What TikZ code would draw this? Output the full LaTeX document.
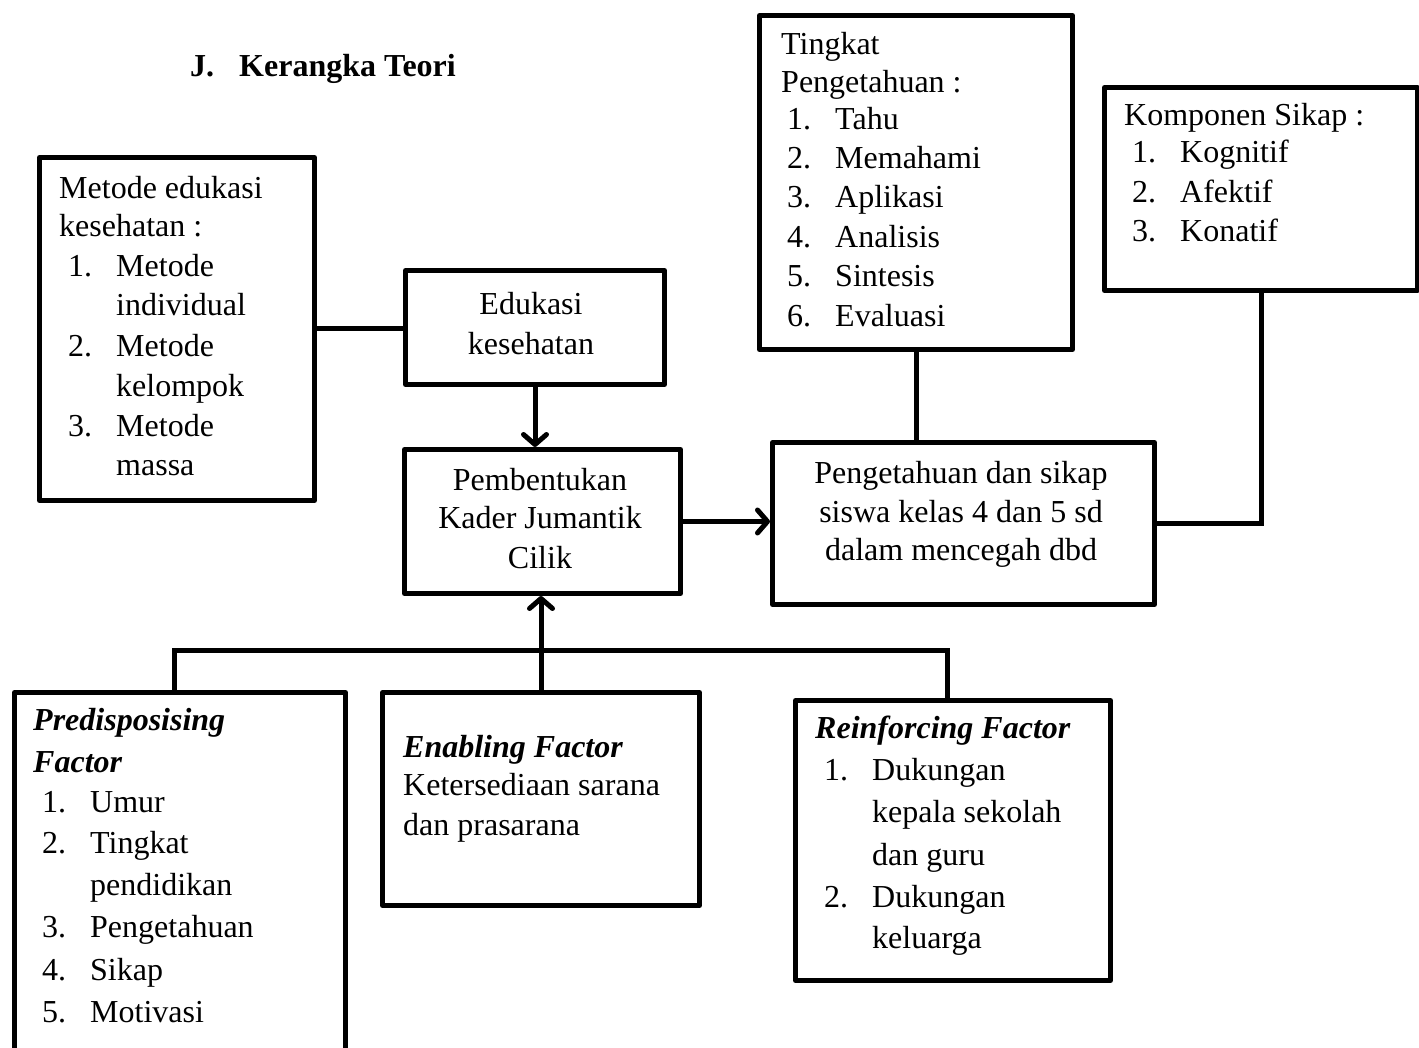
\documentclass[tikz,border=0pt]{standalone}
\usepackage{fontspec}
\setmainfont{Liberation Serif}
\usetikzlibrary{arrows.meta,calc}
\tikzset{
  box/.style={draw, line width=5pt, rectangle, inner sep=0pt, anchor=north west, line join=round},
  conn/.style={line width=5pt},
  arr/.style={conn, -{Straight Barb[length=10pt,width=23pt,round]}},
  txt/.style={anchor=base west, inner sep=0pt, font=\fontsize{32}{39.5}\selectfont},
  ctxt/.style={txt, anchor=base},
}
\newcommand\Bx[5]{\node[box, minimum width=#4pt, minimum height=#5pt] (#1) at (#2,#3) {};}
\newcommand\Tl[4]{\node[txt] (#1) at (#2,#3) {#4};}
\newcommand\Ct[4]{\node[ctxt] (#1) at (#2,#3) {#4};}
\newcommand\Num[2]{\makebox[48pt][l]{#1}#2}
\begin{document}
\begin{tikzpicture}[x=1pt,y=-1pt]
\useasboundingbox (0,0) rectangle (1419,1048);
% title
\node[txt, font=\fontsize{32}{39.5}\selectfont\bfseries] (title) at (190,77) {\makebox[49pt][l]{J.}Kerangka Teori};
% boxes
\Bx{metode}{37}{155}{275}{343}
\Bx{edukasi}{403}{268}{259}{114}
\Bx{pembentukan}{402}{447}{276}{144}
\Bx{pengsikap}{770}{440}{382}{162}
\Bx{tingkat}{757}{13}{313}{334}
\Bx{komponen}{1102}{85}{313}{203}
\Bx{predis}{12}{690}{331}{380}
\Bx{enabling}{380}{690}{317}{213}
\Bx{reinf}{793}{698}{315}{280}
% metode text
\Tl{m1}{59}{199}{Metode edukasi}
\Tl{m2}{59}{237}{kesehatan :}
\Tl{m3}{68}{277}{\Num{1.}{Metode}}
\Tl{m4}{116}{316}{individual}
\Tl{m5}{68}{357}{\Num{2.}{Metode}}
\Tl{m6}{116}{397}{kelompok}
\Tl{m7}{68}{436}{\Num{3.}{Metode}}
\Tl{m8}{116}{475}{massa}
% edukasi
\Ct{e1}{531}{315}{Edukasi}
\Ct{e2}{531}{355}{kesehatan}
% pembentukan
\Ct{p1}{540}{490}{Pembentukan}
\Ct{p2}{540}{528}{Kader Jumantik}
\Ct{p3}{540}{568}{Cilik}
% pengetahuan dan sikap
\Ct{s1}{961}{483}{Pengetahuan dan sikap}
\Ct{s2}{961}{522}{siswa kelas 4 dan 5 sd}
\Ct{s3}{961}{560}{dalam mencegah dbd}
% tingkat
\Tl{t1}{781}{55}{Tingkat}
\Tl{t2}{781}{93}{Pengetahuan :}
\Tl{t3}{787}{130}{\Num{1.}{Tahu}}
\Tl{t4}{787}{169}{\Num{2.}{Memahami}}
\Tl{t5}{787}{208}{\Num{3.}{Aplikasi}}
\Tl{t6}{787}{248}{\Num{4.}{Analisis}}
\Tl{t7}{787}{287}{\Num{5.}{Sintesis}}
\Tl{t8}{787}{327}{\Num{6.}{Evaluasi}}
% komponen
\Tl{k1}{1124}{126}{Komponen Sikap :}
\Tl{k2}{1132}{163}{\Num{1.}{Kognitif}}
\Tl{k3}{1132}{203}{\Num{2.}{Afektif}}
\Tl{k4}{1132}{242}{\Num{3.}{Konatif}}
% predisposising
\Tl{d1}{33}{730}{\bfseries\itshape Predisposising}
\Tl{d2}{33}{772}{\bfseries\itshape Factor}
\Tl{d3}{42}{812}{\Num{1.}{Umur}}
\Tl{d4}{42}{853}{\Num{2.}{Tingkat}}
\Tl{d5}{90}{895}{pendidikan}
\Tl{d6}{42}{937}{\Num{3.}{Pengetahuan}}
\Tl{d7}{42}{980}{\Num{4.}{Sikap}}
\Tl{d8}{42}{1022}{\Num{5.}{Motivasi}}
% enabling
\Tl{n1}{403}{757}{\bfseries\itshape Enabling Factor}
\Tl{n2}{403}{795}{Ketersediaan sarana}
\Tl{n3}{403}{835}{dan prasarana}
% reinforcing
\Tl{r1}{815}{738}{\bfseries\itshape Reinforcing Factor}
\Tl{r2}{824}{780}{\Num{1.}{Dukungan}}
\Tl{r3}{872}{822}{kepala sekolah}
\Tl{r4}{872}{865}{dan guru}
\Tl{r5}{824}{907}{\Num{2.}{Dukungan}}
\Tl{r6}{872}{948}{keluarga}
% connectors
\draw[conn] (metode.east) -- (metode.east -| edukasi.west);
\draw[arr] (edukasi.south) -- (edukasi.south |- pembentukan.north);
\draw[arr] (pembentukan.east) -- (pembentukan.east -| pengsikap.west);
\draw[conn] (tingkat.south) -- (tingkat.south |- pengsikap.north);
\draw[conn, line join=miter] (komponen.south) -- (komponen.south |- pengsikap.east) -- (pengsikap.east);
\coordinate (hl) at (174,650);
\coordinate (hr) at (947,650);
\draw[conn, line join=miter] (predis.north -| hl) -- (hl) -- (hr) -- (reinf.north -| hr);
\draw[arr] (enabling.north) -- (enabling.north |- pembentukan.south);
\end{tikzpicture}
\end{document}
